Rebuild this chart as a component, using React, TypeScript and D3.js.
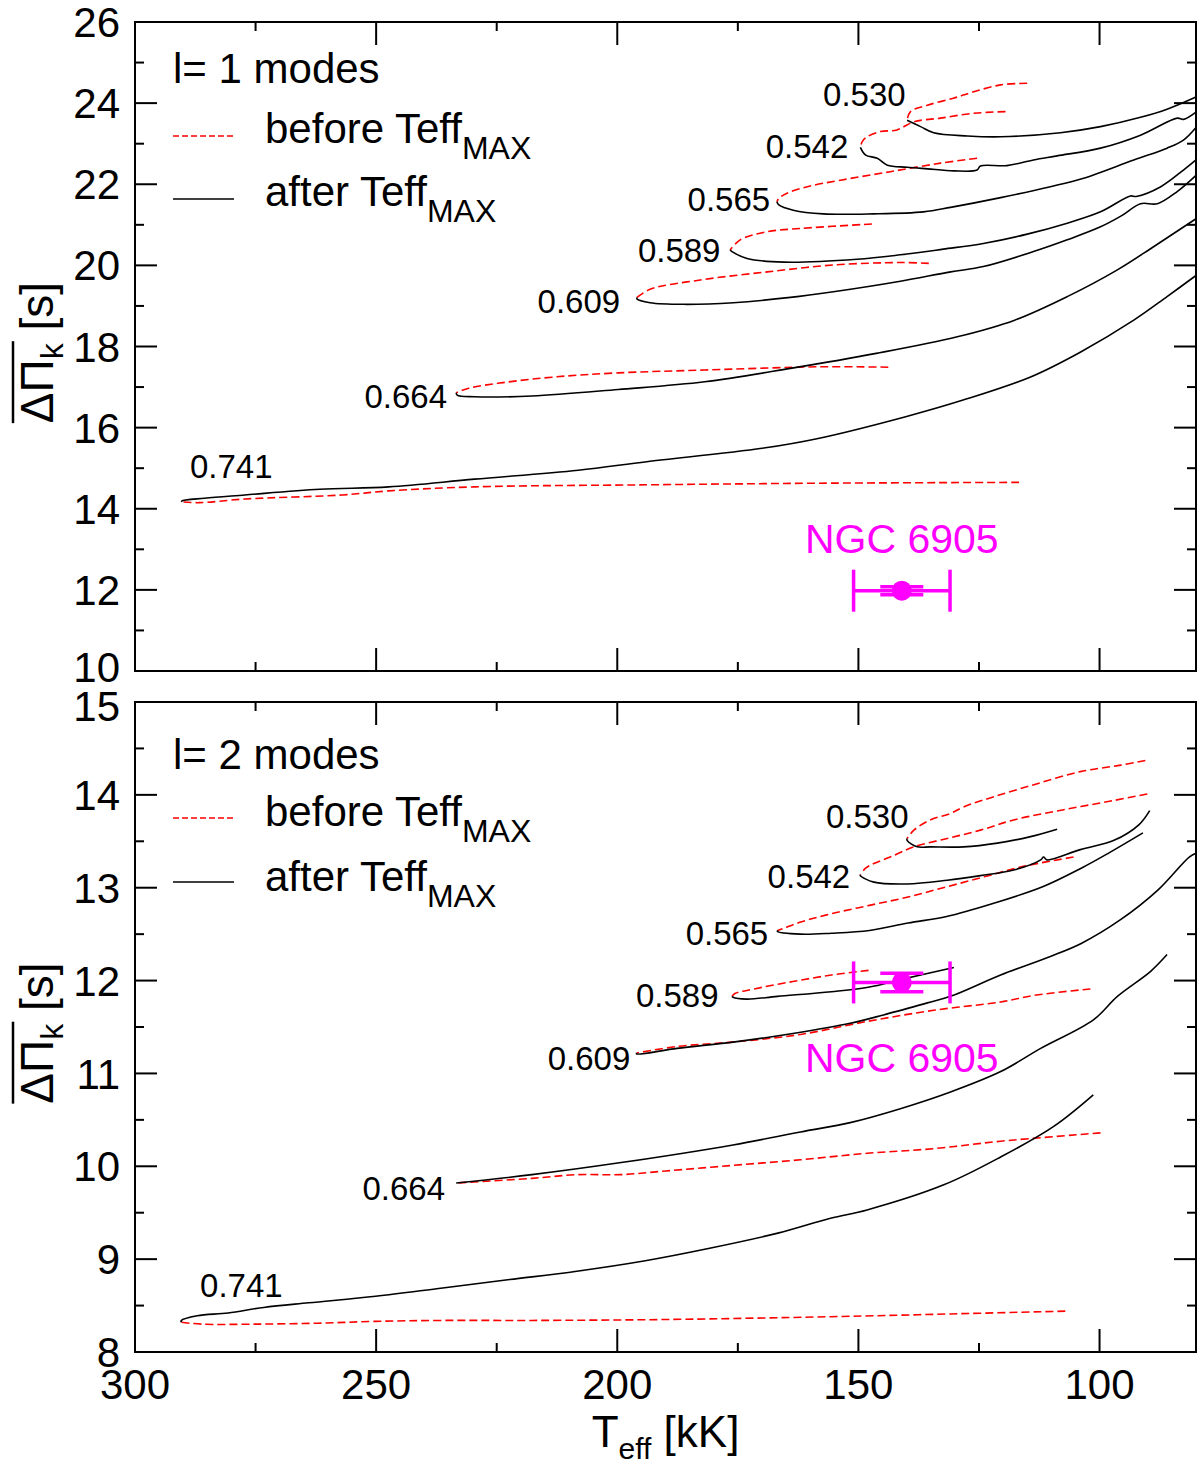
import { useEffect, useRef } from 'react';
import * as d3 from 'd3';

type Pt = [number, number]; // [Teff (kK), mean period spacing (s)]

// ---------- l = 1 tracks ----------
const l1m530Before: Pt[] = [[115.0,24.49],[120.5,24.45],[126.1,24.28],[130.3,24.12],[135.7,23.95],[139.2,23.79],[139.9,23.58]];
const l1m530After: Pt[] = [[139.9,23.58],[137.1,23.42],[134.4,23.27],[127.4,23.19],[120.5,23.17],[108.1,23.27],[99.8,23.42],[91.5,23.65],[86.0,23.85],[80.0,24.15]];
const l1m542Before: Pt[] = [[119.5,23.79],[126.1,23.75],[133.0,23.63],[138.5,23.54],[142.0,23.34],[145.4,23.30],[148.2,23.17],[149.2,23.05],[149.6,22.91]];
const l1m542After: Pt[] = [[149.6,22.91],[148.5,22.72],[146.1,22.64],[144.0,22.47],[139.9,22.42],[135.7,22.38],[130.2,22.33],[125.4,22.35],[124.7,22.45],[119.2,22.46],[113.7,22.60],[108.8,22.70],[99.8,22.89],[91.5,23.21],[83.9,23.63],[82.6,23.60],[80.0,23.78]];
const l1m565Before: Pt[] = [[125.4,22.64],[133.0,22.52],[143.4,22.31],[153.7,22.10],[160.6,21.94],[164.8,21.78],[166.5,21.65],[166.9,21.57]];
const l1m565After: Pt[] = [[166.9,21.57],[166.5,21.49],[163.5,21.36],[157.3,21.27],[146.9,21.27],[136.5,21.32],[130.9,21.43],[120.5,21.67],[110.2,21.94],[103.3,22.15],[92.9,22.60],[86.0,22.89],[82.6,23.09],[80.0,23.40]];
const l1m589Before: Pt[] = [[147.2,21.02],[162.0,20.91],[168.9,20.83],[174.5,20.63],[176.6,20.38]];
const l1m589After: Pt[] = [[176.6,20.38],[176.2,20.34],[173.1,20.17],[165.5,20.08],[150.3,20.15],[141.3,20.26],[132.4,20.40],[124.1,20.54],[115.0,20.77],[106.7,21.04],[99.8,21.32],[93.6,21.71],[92.4,21.70],[87.3,21.94],[82.6,22.35],[80.0,22.60]];
const l1m609Before: Pt[] = [[135.4,20.05],[141.3,20.07],[155.2,20.01],[168.9,19.84],[182.8,19.64],[193.2,19.41],[195.9,19.21]];
const l1m609After: Pt[] = [[195.9,19.21],[195.9,19.17],[193.2,19.08],[186.3,19.04],[175.9,19.08],[164.1,19.21],[155.2,19.35],[141.3,19.61],[130.9,19.84],[124.1,19.97],[113.7,20.34],[106.7,20.63],[99.8,20.95],[95.5,21.22],[91.5,21.52],[88.0,21.52],[83.9,21.82],[80.0,22.22]];
const l1m664Before: Pt[] = [[143.8,17.49],[158.1,17.50],[181.9,17.42],[199.8,17.35],[212.9,17.25],[223.7,17.11],[230.8,16.97],[233.4,16.86]];
const l1m664After: Pt[] = [[233.4,16.86],[233.2,16.80],[229.6,16.76],[217.7,16.78],[199.8,16.94],[181.9,17.13],[164.1,17.46],[146.3,17.83],[129.5,18.24],[117.6,18.65],[106.7,19.23],[96.3,19.89],[88.8,20.46],[80.0,21.15]];
const l1m741Before: Pt[] = [[116.7,14.65],[158.1,14.63],[193.9,14.59],[229.6,14.54],[247.4,14.44],[257.0,14.34],[277.2,14.24],[286.7,14.15],[290.3,14.17]];
const l1m741After: Pt[] = [[290.3,14.17],[290.3,14.19],[285.6,14.26],[277.2,14.34],[261.7,14.48],[247.4,14.54],[229.6,14.73],[208.1,14.95],[193.9,15.16],[170.0,15.49],[158.1,15.74],[140.2,16.27],[128.3,16.68],[114.3,17.25],[104.0,17.86],[92.9,18.65],[86.0,19.23],[80.0,19.75]];

// ---------- l = 2 tracks ----------
const l2m530Before: Pt[] = [[90.5,14.37],[95.6,14.32],[104.0,14.25],[113.6,14.11],[121.9,13.98],[128.2,13.87],[130.9,13.80],[135.1,13.73],[138.5,13.62],[139.9,13.53]];
const l2m530After: Pt[] = [[139.9,13.53],[139.9,13.51],[137.8,13.44],[135.1,13.44],[128.2,13.44],[121.2,13.48],[114.3,13.55],[108.8,13.63]];
const l2m542Before: Pt[] = [[90.1,14.01],[97.0,13.94],[107.4,13.84],[117.8,13.73],[124.7,13.62],[131.6,13.53],[138.5,13.44],[143.4,13.33],[146.8,13.26],[148.5,13.21],[149.6,13.14]];
const l2m542After: Pt[] = [[149.6,13.14],[149.6,13.13],[146.8,13.06],[139.9,13.04],[131.6,13.08],[124.7,13.13],[117.8,13.19],[112.2,13.30],[111.6,13.33],[110.9,13.30],[104.0,13.41],[97.0,13.51],[91.8,13.68],[89.6,13.83]];
const l2m565Before: Pt[] = [[105.4,13.33],[115.8,13.23],[123.7,13.12],[131.7,13.01],[139.7,12.90],[147.7,12.81],[155.6,12.72],[162.0,12.63],[165.6,12.56],[166.7,12.54]];
const l2m565After: Pt[] = [[166.7,12.54],[166.8,12.53],[162.0,12.50],[155.6,12.51],[147.7,12.54],[139.7,12.62],[131.7,12.69],[122.1,12.83],[111.8,13.01],[103.8,13.21],[98.2,13.37],[91.0,13.59]];
const l2m589Before: Pt[] = [[147.9,12.11],[155.6,12.06],[163.6,11.99],[171.6,11.91],[175.6,11.86],[176.2,11.83]];
const l2m589After: Pt[] = [[176.2,11.83],[176.0,11.82],[173.2,11.80],[166.8,11.83],[155.6,11.88],[147.7,11.93],[141.3,12.01],[130.2,12.14]];
const l2m609Before: Pt[] = [[101.9,11.91],[113.6,11.84],[120.5,11.77],[134.4,11.68],[148.2,11.56],[162.0,11.42],[175.6,11.34],[187.6,11.29],[196.0,11.22]];
const l2m609After: Pt[] = [[196.0,11.22],[196.0,11.21],[187.6,11.27],[175.6,11.34],[163.6,11.43],[151.7,11.54],[144.8,11.63],[135.7,11.76],[130.9,11.83],[120.5,12.06],[110.2,12.26],[103.8,12.40],[95.8,12.65],[87.8,12.98],[81.4,13.33],[80.0,13.37]];
const l2m664Before: Pt[] = [[99.8,10.36],[120.5,10.27],[134.4,10.19],[148.2,10.14],[162.0,10.07],[176.0,10.01],[189.9,9.95],[199.2,9.91],[208.4,9.91],[217.7,9.87],[233.4,9.82]];
const l2m664After: Pt[] = [[233.4,9.82],[217.7,9.91],[199.2,10.04],[176.0,10.23],[162.0,10.37],[151.7,10.47],[141.3,10.62],[130.9,10.80],[120.5,11.02],[112.2,11.27],[101.2,11.58],[96.3,11.83],[89.4,12.10],[86.0,12.28]];
const l2m741Before: Pt[] = [[107.1,8.44],[130.9,8.41],[155.8,8.38],[189.9,8.35],[217.7,8.34],[236.2,8.34],[250.1,8.33],[262.1,8.31],[275.1,8.30],[286.2,8.30],[290.4,8.32]];
const l2m741After: Pt[] = [[290.4,8.32],[290.4,8.34],[287.1,8.39],[280.7,8.42],[273.3,8.48],[264.0,8.53],[250.1,8.60],[236.2,8.69],[222.3,8.78],[208.4,8.87],[194.5,8.98],[180.6,9.12],[166.7,9.28],[155.8,9.44],[148.2,9.53],[132.3,9.80],[120.5,10.10],[109.5,10.43],[101.3,10.77]];

// stellar masses and where their labels sit (data coords)
const masses = ['0.530', '0.542', '0.565', '0.589', '0.609', '0.664', '0.741'];
const l1LabelAt: Pt[] = [[140.2,23.93],[152.1,22.65],[168.3,21.34],[178.6,20.08],[199.4,18.83],[235.3,16.48],[288.6,14.76]];
const l2LabelAt: Pt[] = [[139.6,13.64],[151.7,13.00],[168.7,12.38],[179.0,11.72],[197.3,11.04],[235.7,9.64],[286.5,8.59]];

// NGC 6905 observation
const ngcTeff = 141;
const ngcTeffErr = 10;
const ngcSpacing = 11.98;
const ngcSpacingErr = 0.1;

const xDomain: Pt = [300, 80];
const xTickValues = [300, 250, 200, 150, 100];

const FONT = 'Liberation Sans, Arial, Helvetica, sans-serif';
const W = 1200;
const H = 1467;
const LEFT = 135;
const RIGHT = 1196;

interface Panel {
  top: number;
  bottom: number;
  yDomain: Pt;
  yMajor: number;
  title: string;
  before: Pt[][];
  after: Pt[][];
  labels: Pt[];
  legendY: number[]; // title, before text, before line, after text, after line (offset from top)
  ngcTextY: number;
  showX: boolean;
}

const panels: Panel[] = [
  {
    top: 22, bottom: 671, yDomain: [10, 26], yMajor: 2, title: 'l= 1 modes',
    before: [l1m530Before, l1m542Before, l1m565Before, l1m589Before, l1m609Before, l1m664Before, l1m741Before],
    after: [l1m530After, l1m542After, l1m565After, l1m589After, l1m609After, l1m664After, l1m741After],
    labels: l1LabelAt, legendY: [61, 121, 114, 184, 177], ngcTextY: 12.92, showX: false,
  },
  {
    top: 702, bottom: 1352, yDomain: [8, 15], yMajor: 1, title: 'l= 2 modes',
    before: [l2m530Before, l2m542Before, l2m565Before, l2m589Before, l2m609Before, l2m664Before, l2m741Before],
    after: [l2m530After, l2m542After, l2m565After, l2m589After, l2m609After, l2m664After, l2m741After],
    labels: l2LabelAt, legendY: [67, 124, 116, 189, 180], ngcTextY: 11.02, showX: true,
  },
];

export default function App() {
  const svgRef = useRef<SVGSVGElement>(null);

  useEffect(() => {
    if (!svgRef.current) return;
    const svg = d3.select(svgRef.current);
    svg.selectAll('*').remove();
    svg.append('rect').attr('width', W).attr('height', H).attr('fill', 'white');

    const x = d3.scaleLinear().domain(xDomain).range([LEFT, RIGHT]);
    const xMinor = d3.range(275, 80, -25);

    panels.forEach(p => {
      const y = d3.scaleLinear().domain(p.yDomain).range([p.bottom, p.top]);
      const g = svg.append('g');
      const line = d3.line<Pt>()
        .x(d => x(d[0]))
        .y(d => y(d[1]))
        .curve(d3.curveCatmullRom.alpha(0.5));

      // evolutionary tracks
      p.before.forEach(pts => {
        g.append('path').attr('d', line(pts)).attr('fill', 'none')
          .attr('stroke', '#ff0000').attr('stroke-width', 1.6).attr('stroke-dasharray', '8,4');
      });
      p.after.forEach(pts => {
        g.append('path').attr('d', line(pts)).attr('fill', 'none')
          .attr('stroke', '#000').attr('stroke-width', 1.6);
      });
      p.labels.forEach((d, i) => {
        g.append('text').attr('x', x(d[0])).attr('y', y(d[1]))
          .attr('text-anchor', i === masses.length - 1 ? 'start' : 'end')
          .style('font-family', FONT).style('font-size', '33px').text(masses[i]);
      });

      // frame
      g.append('rect').attr('x', LEFT).attr('y', p.top)
        .attr('width', RIGHT - LEFT).attr('height', p.bottom - p.top)
        .attr('fill', 'none').attr('stroke', '#000').attr('stroke-width', 2);

      // x ticks (top and bottom of each panel)
      xMinor.forEach(t => {
        const len = t % 50 === 0 ? 23 : 9;
        g.append('line').attr('x1', x(t)).attr('x2', x(t)).attr('y1', p.bottom).attr('y2', p.bottom - len)
          .attr('stroke', '#000').attr('stroke-width', 2);
        g.append('line').attr('x1', x(t)).attr('x2', x(t)).attr('y1', p.top).attr('y2', p.top + len)
          .attr('stroke', '#000').attr('stroke-width', 2);
      });

      // y ticks
      const [y0, y1] = p.yDomain;
      const half = p.yMajor / 2;
      d3.range(y0, y1 + 1e-6, half).forEach(v => {
        const isMajor = Math.abs((v - y0) / p.yMajor - Math.round((v - y0) / p.yMajor)) < 1e-6;
        if (isMajor) {
          // the shared corner labels (10 / 15) are nudged apart a little
          const nudge = v === y0 && !p.showX ? -4 : v === y1 && p.showX ? 4 : 0;
          g.append('text').attr('x', 120).attr('y', y(v) + nudge).attr('dy', '0.36em')
            .attr('text-anchor', 'end').style('font-family', FONT).style('font-size', '42px').text(v);
        }
        if (v === y0 || v === y1) return;
        const len = isMajor ? 22 : 9;
        g.append('line').attr('x1', LEFT).attr('x2', LEFT + len).attr('y1', y(v)).attr('y2', y(v))
          .attr('stroke', '#000').attr('stroke-width', 2);
        g.append('line').attr('x1', RIGHT).attr('x2', RIGHT - len).attr('y1', y(v)).attr('y2', y(v))
          .attr('stroke', '#000').attr('stroke-width', 2);
      });

      // y-axis title with an overline across ΔΠ_k
      const tf = `translate(53,${(p.top + p.bottom) / 2 + 6}) rotate(-90)`;
      const yt = g.append('text').attr('transform', tf)
        .attr('text-anchor', 'middle').style('font-family', FONT).style('font-size', '46px');
      const s1 = yt.append('tspan').text('ΔΠ');
      const s2 = yt.append('tspan').attr('dy', 10).style('font-size', '32px').text('k');
      yt.append('tspan').attr('dy', -10).text(' [s]');
      const total = (yt.node() as SVGTextElement).getComputedTextLength();
      const wBar = (s1.node() as SVGTSpanElement).getComputedTextLength()
        + (s2.node() as SVGTSpanElement).getComputedTextLength();
      g.append('line').attr('transform', tf)
        .attr('x1', -total / 2).attr('x2', -total / 2 + wBar + 2)
        .attr('y1', -40).attr('y2', -40).attr('stroke', '#000').attr('stroke-width', 2.5);

      // legend
      const lx = 173;
      g.append('text').attr('x', lx).attr('y', p.top + p.legendY[0])
        .style('font-family', FONT).style('font-size', '42px').text(p.title);
      [['before', '#ff0000', '6,3'], ['after', '#000', null]].forEach(([word, color, dash], k) => {
        const ty = p.top + p.legendY[1 + k * 2];
        const ly = p.top + p.legendY[2 + k * 2];
        const ln = g.append('line').attr('x1', lx).attr('x2', lx + 61).attr('y1', ly).attr('y2', ly)
          .attr('stroke', color as string).attr('stroke-width', 1.6);
        if (dash) ln.attr('stroke-dasharray', dash as string);
        const t = g.append('text').attr('x', 265).attr('y', ty)
          .style('font-family', FONT).style('font-size', '42px');
        t.append('tspan').text(`${word} Teff`);
        t.append('tspan').attr('dy', 16).style('font-size', '32px').text('MAX');
      });

      // NGC 6905
      const cx = x(ngcTeff);
      const cy = y(ngcSpacing);
      const mag = '#ff00ff';
      g.append('line').attr('x1', x(ngcTeff + ngcTeffErr)).attr('x2', x(ngcTeff - ngcTeffErr))
        .attr('y1', cy).attr('y2', cy).attr('stroke', mag).attr('stroke-width', 3.5);
      [ngcTeff + ngcTeffErr, ngcTeff - ngcTeffErr].forEach(t => {
        g.append('line').attr('x1', x(t)).attr('x2', x(t)).attr('y1', cy - 21).attr('y2', cy + 21)
          .attr('stroke', mag).attr('stroke-width', 3.5);
      });
      g.append('line').attr('x1', cx).attr('x2', cx)
        .attr('y1', y(ngcSpacing - ngcSpacingErr)).attr('y2', y(ngcSpacing + ngcSpacingErr))
        .attr('stroke', mag).attr('stroke-width', 3.5);
      [ngcSpacing - ngcSpacingErr, ngcSpacing + ngcSpacingErr].forEach(v => {
        g.append('line').attr('x1', cx - 21.5).attr('x2', cx + 21.5).attr('y1', y(v)).attr('y2', y(v))
          .attr('stroke', mag).attr('stroke-width', 3.5);
      });
      g.append('circle').attr('cx', cx).attr('cy', cy).attr('r', 10).attr('fill', mag);
      g.append('text').attr('x', cx).attr('y', y(p.ngcTextY)).attr('text-anchor', 'middle')
        .style('font-family', FONT).style('font-size', '41px').attr('fill', mag).text('NGC 6905');

      // x tick labels + title on the lower panel
      if (p.showX) {
        xTickValues.forEach(t => {
          g.append('text').attr('x', x(t)).attr('y', p.bottom + 47).attr('text-anchor', 'middle')
            .style('font-family', FONT).style('font-size', '42px').text(t);
        });
        const xt = g.append('text').attr('x', (LEFT + RIGHT) / 2).attr('y', 1447)
          .attr('text-anchor', 'middle').style('font-family', FONT).style('font-size', '44px');
        xt.append('tspan').text('T');
        xt.append('tspan').attr('dy', 12).style('font-size', '30px').text('eff');
        xt.append('tspan').attr('dy', -12).text(' [kK]');
      }
    });
  }, []);

  return (
    <div style={{ position: 'absolute', left: 0, top: 0 }}>
      <svg ref={svgRef} width={W} height={H} style={{ display: 'block' }} />
    </div>
  );
}
